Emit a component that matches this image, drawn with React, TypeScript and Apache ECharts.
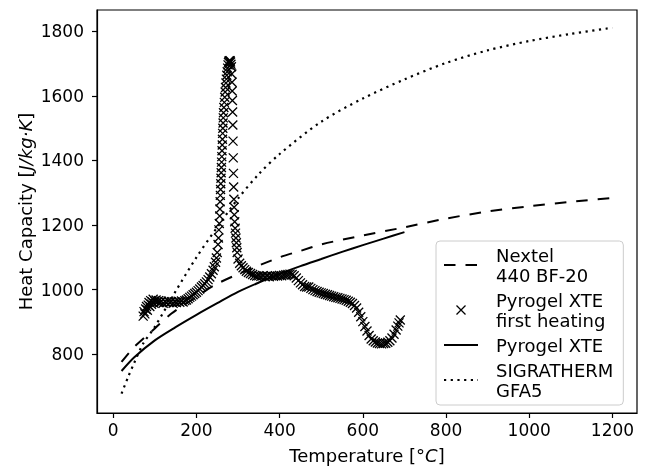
import React, { useEffect, useRef } from 'react';
import * as echarts from 'echarts';

const FONT = 'DejaVu Sans';

const xTicks = [0, 200, 400, 600, 800, 1000, 1200];
const yTicks = [800, 1000, 1200, 1400, 1600, 1800];

const nextelT = [20, 50, 100, 140, 200, 245, 300, 400, 450, 500, 600, 700, 800, 900, 1000, 1100, 1200];
const nextelCp = [776, 822, 880, 926, 978, 1015, 1048, 1100, 1120, 1140, 1168, 1193, 1220, 1242, 1258, 1272, 1284];

const xteT = [20, 50, 100, 150, 200, 250, 300, 350, 400, 450, 500, 550, 600, 650, 700];
const xteCp = [748, 790, 843, 884, 922, 958, 993, 1022, 1049, 1073, 1095, 1117, 1138, 1158, 1178];

const sigT = [20, 36, 50, 72, 100, 150, 200, 250, 300, 350, 400, 500, 600, 700, 800, 900, 1000, 1100, 1200];
const sigCp = [678, 730, 772, 833, 885, 995, 1100, 1193, 1282, 1358, 1420, 1520, 1592, 1651, 1702, 1741, 1770, 1792, 1811];

const heatT = [
  72, 74, 76, 78, 80, 82, 84, 86, 88, 90, 92, 94, 96, 98, 100, 103, 106, 109, 112, 116,
  120, 124, 128, 132, 136, 140, 144, 148, 152, 156, 160, 164, 168, 172, 176, 180, 184, 188, 192, 196,
  200, 204, 208, 212, 216, 220, 224, 228, 232, 236, 240, 243, 246, 248, 250, 252, 253,
  254, 255, 256, 256.5, 257, 257.5, 258, 258.5, 259, 259.5, 260, 260.5, 261, 261.5, 262, 262.5, 263, 263.5,
  264, 264.5, 265, 266, 267, 268, 269, 270, 271, 272, 273, 274, 275, 276, 277, 278, 279, 280, 281, 282, 283,
  284, 285, 285.5, 286, 286.5, 287, 287.5, 288, 288.5, 289, 289.5, 290, 290.5, 291, 292, 293, 294, 295, 296, 297, 298,
  300, 304, 308, 312, 316, 320, 325, 330, 335,
  340, 345, 350, 355, 360, 365, 370, 375, 380, 385, 390, 395, 400, 405, 410, 415, 420, 425, 430, 435,
  440, 445, 450, 455, 460, 465, 470, 475, 480, 485, 490, 495, 500, 505, 510, 515, 520, 525, 530, 535,
  540, 545, 550, 555, 560, 565, 570, 575, 580, 585, 590, 595, 600, 605, 610, 615, 620, 625, 630, 635,
  640, 645, 650, 655, 660, 665, 670, 675, 680, 684, 687, 690,
];
const heatCp = [
  918, 932, 925, 940, 948, 936, 952, 960, 948, 966, 955, 962, 970, 958, 965, 968, 962, 966, 960, 964,
  958, 963, 960, 965, 960, 963, 958, 962, 960, 964, 961, 965, 962, 966, 968, 972, 976, 980, 984, 988,
  992, 997, 1002, 1008, 1013, 1018, 1024, 1031, 1039, 1049, 1060, 1071, 1085, 1098, 1115, 1140, 1160,
  1185, 1205, 1228, 1250, 1272, 1292, 1310, 1328, 1345, 1362, 1378, 1395, 1412, 1430, 1448, 1466, 1484, 1500,
  1516, 1532, 1548, 1564, 1580, 1596, 1612, 1626, 1640, 1652, 1664, 1675, 1686, 1696, 1703, 1707, 1709, 1706, 1709, 1705, 1698,
  1690, 1668, 1642, 1615, 1586, 1550, 1510, 1460, 1408, 1360, 1318, 1280, 1255, 1232, 1210, 1190, 1175, 1160, 1145, 1130, 1115,
  1095, 1082, 1074, 1068, 1062, 1057, 1053, 1050, 1047,
  1044, 1042, 1043, 1041, 1043, 1040, 1042, 1040, 1043, 1041, 1043, 1042, 1044, 1043, 1045, 1046, 1047, 1048, 1047, 1043,
  1036, 1028, 1021, 1015, 1010, 1008, 1008, 1004, 1000, 997, 994, 992, 990, 988, 986, 984, 982, 980, 978, 976,
  975, 973, 971, 969, 967, 964, 961, 957, 951, 943, 930, 916, 901, 886, 872, 858, 847, 842, 838, 835,
  833, 832, 833, 834, 837, 842, 850, 862, 875, 887, 897, 906,
];

const NAMES = ['Nextel\n440 BF-20', 'Pyrogel XTE\nfirst heating', 'Pyrogel XTE', 'SIGRATHERM\nGFA5'];

const pairs = (xs: number[], ys: number[]) => xs.map((x, i) => [x, ys[i]]);

const hiddenSymbol = { color: 'transparent', borderColor: 'transparent', borderWidth: 0 };

export default function App() {
  const ref = useRef<HTMLDivElement>(null);
  useEffect(() => {
    const chart = echarts.init(ref.current!, null, { renderer: 'svg' });
    const axisCommon = {
      type: 'value' as const,
      axisLine: { show: true, onZero: false, lineStyle: { color: '#000', width: 1.2 } },
      splitLine: { show: false },
    };
    const rich = {
      n: { fontSize: 18, color: '#000', fontFamily: FONT },
      i: { fontSize: 18, color: '#000', fontFamily: FONT, fontStyle: 'italic' },
    };
    chart.setOption({
      animation: false,
      textStyle: { fontFamily: FONT },
      grid: {
        left: 97, right: 8, top: 10, bottom: 53,
        show: true, borderColor: '#000', borderWidth: 1.2,
        containLabel: false, outerBoundsMode: 'none',
      },
      xAxis: {
        ...axisCommon,
        min: -39, max: 1259,
        name: '{n|Temperature [°}{i|C}{n|]}',
        nameLocation: 'middle', nameGap: 33, nameMoveOverlap: false,
        nameTextStyle: { rich },
        axisTick: { show: true, length: 5, inside: false, customValues: xTicks, lineStyle: { color: '#000', width: 1.2 } },
        axisLabel: {
          customValues: xTicks, fontSize: 17, color: '#000', margin: 8, fontFamily: FONT,
          formatter: (v: number) => String(v),
        },
      },
      yAxis: {
        ...axisCommon,
        min: 618, max: 1866,
        name: '{n|Heat Capacity [}{i|J/kg·K}{n|]}',
        nameLocation: 'middle', nameGap: 63, nameMoveOverlap: false,
        nameTextStyle: { rich },
        axisTick: { show: true, length: 5, inside: false, customValues: yTicks, lineStyle: { color: '#000', width: 1.2 } },
        axisLabel: {
          customValues: yTicks, fontSize: 17, color: '#000', margin: 13, fontFamily: FONT,
          formatter: (v: number) => String(v),
        },
      },
      legend: {
        orient: 'vertical', left: 436, top: 241,
        padding: [4, 10, 5, 7],
        itemWidth: 34, itemHeight: 9, itemGap: 5,
        backgroundColor: 'rgba(255,255,255,0.8)', borderColor: '#cccccc', borderWidth: 1, borderRadius: 4,
        selectedMode: false,
        textStyle: { fontSize: 18, color: '#000', lineHeight: 20, padding: [0, 0, 0, 13], fontFamily: FONT },
        data: [
          { name: NAMES[0], itemStyle: hiddenSymbol },
          { name: NAMES[1], itemStyle: { color: 'transparent', borderColor: '#000', borderWidth: 1.3 } },
          { name: NAMES[2], itemStyle: hiddenSymbol },
          { name: NAMES[3], itemStyle: hiddenSymbol },
        ],
      },
      series: [
        {
          name: NAMES[0], type: 'line', symbol: 'none', smooth: 0.3, silent: true,
          data: pairs(nextelT, nextelCp),
          lineStyle: { color: '#000', width: 2, type: [11.5, 10] },
          itemStyle: { color: '#000' },
        },
        {
          name: NAMES[1], type: 'scatter', silent: true,
          symbol: 'path://M0,0L10,10M10,0L0,10', symbolSize: 9, symbolKeepAspect: true,
          data: pairs(heatT, heatCp),
          itemStyle: { color: 'transparent', borderColor: '#000', borderWidth: 1.3, opacity: 1 },
        },
        {
          name: NAMES[2], type: 'line', symbol: 'none', smooth: 0.3, silent: true,
          data: pairs(xteT, xteCp),
          lineStyle: { color: '#000', width: 2 },
          itemStyle: { color: '#000' },
        },
        {
          name: NAMES[3], type: 'line', symbol: 'none', smooth: 0.3, silent: true,
          data: pairs(sigT, sigCp),
          lineStyle: { color: '#000', width: 2.2, type: [2.2, 4.5] },
          itemStyle: { color: '#000' },
        },
      ],
    });
    return () => chart.dispose();
  }, []);
  return <div ref={ref} style={{ position: 'fixed', left: 0, top: 0, width: 645, height: 466 }} />;
}
